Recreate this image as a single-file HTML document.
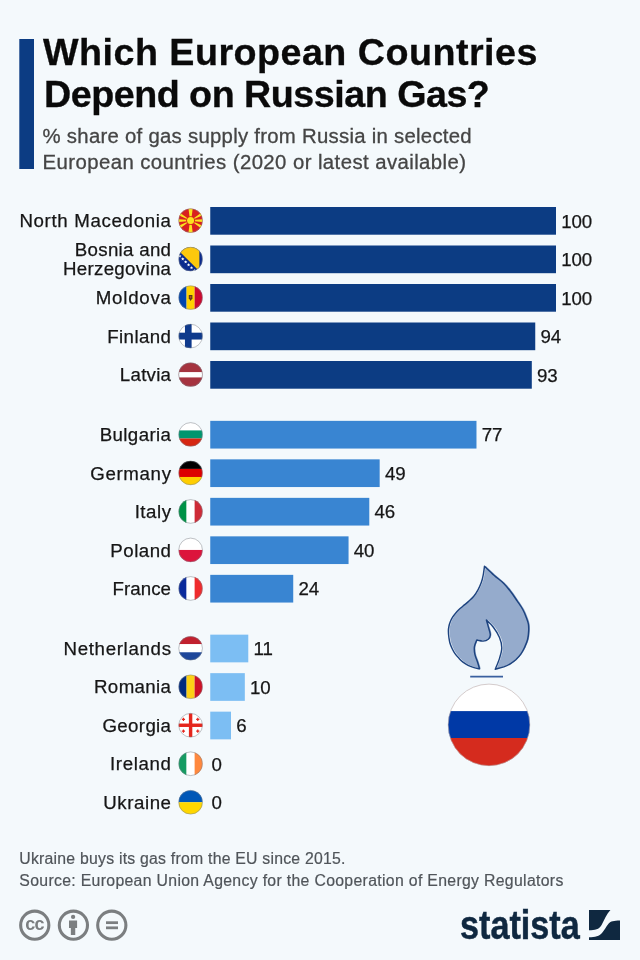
<!DOCTYPE html>
<html lang="en">
<head>
<meta charset="utf-8">
<title>Which European Countries Depend on Russian Gas?</title>
<style>
html,body{margin:0;padding:0;}
body{width:640px;height:960px;background:#f4f9fc;position:relative;overflow:hidden;font-family:"Liberation Sans",Arial,sans-serif;color:#1a1a1a;}
.abs{position:absolute;white-space:nowrap;}
.title{font-weight:bold;font-size:36.4px;line-height:42px;color:#0a0a0a;left:44px;-webkit-text-stroke:0.3px #0a0a0a;}
.sub{font-size:20.35px;line-height:24px;color:#454545;left:44px;-webkit-text-stroke:0.3px #454545;}
.lab{font-size:18.7px;line-height:20px;text-align:right;color:#161616;-webkit-text-stroke:0.25px #161616;}
.val{font-size:18.7px;line-height:20px;color:#161616;-webkit-text-stroke:0.25px #161616;}
.foot{font-size:15.8px;line-height:20px;color:#50555a;left:20.5px;-webkit-text-stroke:0.2px #50555a;}
svg{position:absolute;overflow:visible;}
</style>
</head>
<body>
<svg style="left:0;top:0;" width="60" height="200" viewBox="0 0 60 200"><rect x="19.3" y="39" width="14.7" height="130" fill="#0c3c83"/></svg>
<div class="abs title" style="left:42.90px;top:32.39px;letter-spacing:0.463px;transform-origin:0 0;transform:scaleX(1.035);">Which European Countries</div>
<div class="abs title" style="left:43.90px;top:73.99px;letter-spacing:-0.477px;transform-origin:0 0;transform:scaleX(1.035);">Depend on Russian Gas?</div>
<div class="abs sub" style="left:42.60px;top:124.45px;letter-spacing:0.269px;">% share of gas supply from Russia in selected</div>
<div class="abs sub" style="left:42.60px;top:149.95px;letter-spacing:0.422px;">European countries (2020 or latest available)</div>
<div class="abs val" style="left:561.30px;top:211.62px;letter-spacing:-0.150px;">100</div>
<div class="abs lab" style="right:468.34px;top:211.32px;letter-spacing:0.664px;transform-origin:100% 0;transform:scaleX(1.0);">North Macedonia</div>
<div class="abs val" style="left:561.30px;top:250.12px;letter-spacing:-0.150px;">100</div>
<div class="abs lab" style="right:468.70px;top:239.67px;letter-spacing:0.303px;transform-origin:100% 0;transform:scaleX(1.0);">Bosnia and</div>
<div class="abs lab" style="right:468.69px;top:259.37px;letter-spacing:0.311px;transform-origin:100% 0;transform:scaleX(1.0);">Herzegovina</div>
<div class="abs val" style="left:561.30px;top:288.62px;letter-spacing:-0.150px;">100</div>
<div class="abs lab" style="right:468.21px;top:288.32px;letter-spacing:0.786px;transform-origin:100% 0;transform:scaleX(1.0);">Moldova</div>
<div class="abs val" style="left:540.55px;top:327.12px;letter-spacing:-0.150px;">94</div>
<div class="abs lab" style="right:468.57px;top:326.82px;letter-spacing:0.428px;transform-origin:100% 0;transform:scaleX(1.0);">Finland</div>
<div class="abs val" style="left:537.10px;top:365.62px;letter-spacing:-0.150px;">93</div>
<div class="abs lab" style="right:468.74px;top:365.32px;letter-spacing:0.260px;transform-origin:100% 0;transform:scaleX(1.0);">Latvia</div>
<div class="abs val" style="left:481.78px;top:425.47px;letter-spacing:-0.150px;">77</div>
<div class="abs lab" style="right:468.60px;top:425.17px;letter-spacing:0.399px;transform-origin:100% 0;transform:scaleX(1.0);">Bulgaria</div>
<div class="abs val" style="left:384.97px;top:463.97px;letter-spacing:-0.150px;">49</div>
<div class="abs lab" style="right:468.35px;top:463.67px;letter-spacing:0.650px;transform-origin:100% 0;transform:scaleX(1.0);">Germany</div>
<div class="abs val" style="left:374.59px;top:502.47px;letter-spacing:-0.150px;">46</div>
<div class="abs lab" style="right:468.47px;top:502.17px;letter-spacing:0.526px;transform-origin:100% 0;transform:scaleX(1.0);">Italy</div>
<div class="abs val" style="left:353.85px;top:540.97px;letter-spacing:-0.150px;">40</div>
<div class="abs lab" style="right:468.51px;top:540.67px;letter-spacing:0.495px;transform-origin:100% 0;transform:scaleX(1.0);">Poland</div>
<div class="abs val" style="left:298.53px;top:579.47px;letter-spacing:-0.150px;">24</div>
<div class="abs lab" style="right:468.94px;top:579.17px;letter-spacing:0.060px;transform-origin:100% 0;transform:scaleX(1.0);">France</div>
<div class="abs val" style="left:253.58px;top:639.27px;letter-spacing:-0.150px;">11</div>
<div class="abs lab" style="right:468.32px;top:638.97px;letter-spacing:0.677px;transform-origin:100% 0;transform:scaleX(1.0);">Netherlands</div>
<div class="abs val" style="left:250.12px;top:677.77px;letter-spacing:-0.150px;">10</div>
<div class="abs lab" style="right:468.63px;top:677.47px;letter-spacing:0.369px;transform-origin:100% 0;transform:scaleX(1.0);">Romania</div>
<div class="abs val" style="left:236.30px;top:716.27px;letter-spacing:-0.150px;">6</div>
<div class="abs lab" style="right:468.65px;top:715.97px;letter-spacing:0.345px;transform-origin:100% 0;transform:scaleX(1.0);">Georgia</div>
<div class="abs val" style="left:211.60px;top:754.77px;letter-spacing:-0.150px;">0</div>
<div class="abs lab" style="right:468.35px;top:754.47px;letter-spacing:0.654px;transform-origin:100% 0;transform:scaleX(1.0);">Ireland</div>
<div class="abs val" style="left:211.60px;top:793.27px;letter-spacing:-0.150px;">0</div>
<div class="abs lab" style="right:468.42px;top:792.97px;letter-spacing:0.577px;transform-origin:100% 0;transform:scaleX(1.0);">Ukraine</div>
<svg style="left:0;top:0;" width="640" height="960" viewBox="0 0 640 960">
<rect x="210.25" y="207.00" width="345.75" height="27.7" fill="#0c3c83"/>
<rect x="210.25" y="245.50" width="345.75" height="27.7" fill="#0c3c83"/>
<rect x="210.25" y="284.00" width="345.75" height="27.7" fill="#0c3c83"/>
<rect x="210.25" y="322.50" width="325.00" height="27.7" fill="#0c3c83"/>
<rect x="210.25" y="361.00" width="321.55" height="27.7" fill="#0c3c83"/>
<rect x="210.25" y="420.85" width="266.23" height="27.7" fill="#3985d2"/>
<rect x="210.25" y="459.35" width="169.42" height="27.7" fill="#3985d2"/>
<rect x="210.25" y="497.85" width="159.04" height="27.7" fill="#3985d2"/>
<rect x="210.25" y="536.35" width="138.30" height="27.7" fill="#3985d2"/>
<rect x="210.25" y="574.85" width="82.98" height="27.7" fill="#3985d2"/>
<rect x="210.25" y="634.65" width="38.03" height="27.7" fill="#7cbef3"/>
<rect x="210.25" y="673.15" width="34.58" height="27.7" fill="#7cbef3"/>
<rect x="210.25" y="711.65" width="20.75" height="27.7" fill="#7cbef3"/>
<g transform="translate(178.50,208.50) scale(1.0083)"><clipPath id="cmk"><circle cx="12" cy="12" r="12"/></clipPath><g clip-path="url(#cmk)"><rect width="24" height="24" fill="#d9201f"/><polygon points="11.4,12 12.6,12 14.1,0 9.9,0" fill="#fbe21f"/><polygon points="11.4,12 12.6,12 14.1,24 9.9,24" fill="#fbe21f"/><polygon points="12,11.5 12,12.5 0,13.3 0,10.7" fill="#fbe21f"/><polygon points="12,11.5 12,12.5 24,13.3 24,10.7" fill="#fbe21f"/><polygon points="12,12 0,3.2 0,6.8" fill="#fbe21f"/><polygon points="12,12 24,3.2 24,6.8" fill="#fbe21f"/><polygon points="12,12 0,20.8 0,17.2" fill="#fbe21f"/><polygon points="12,12 24,20.8 24,17.2" fill="#fbe21f"/><circle cx="12" cy="12" r="4.4" fill="#d9201f"/><circle cx="12" cy="12" r="3.5" fill="#fbe21f"/></g><circle cx="12" cy="12" r="11.75" fill="none" stroke="#7d838b" stroke-width="0.5"/></g>
<g transform="translate(178.50,247.00) scale(1.0083)"><clipPath id="cba"><circle cx="12" cy="12" r="12"/></clipPath><g clip-path="url(#cba)"><rect width="24" height="24" fill="#0b2b8e"/><polygon points="-3.4,0 20.7,0 20.7,24.1" fill="#fdc80d"/><polygon points="1.30,7.25 1.76,8.36 2.96,8.46 2.05,9.24 2.33,10.42 1.30,9.79 0.27,10.42 0.55,9.24 -0.36,8.46 0.84,8.36" fill="#fff"/><polygon points="4.20,10.15 4.66,11.26 5.86,11.36 4.95,12.14 5.23,13.32 4.20,12.69 3.17,13.32 3.45,12.14 2.54,11.36 3.74,11.26" fill="#fff"/><polygon points="7.10,13.05 7.56,14.16 8.76,14.26 7.85,15.04 8.13,16.22 7.10,15.59 6.07,16.22 6.35,15.04 5.44,14.26 6.64,14.16" fill="#fff"/><polygon points="10.00,15.95 10.46,17.06 11.66,17.16 10.75,17.94 11.03,19.12 10.00,18.49 8.97,19.12 9.25,17.94 8.34,17.16 9.54,17.06" fill="#fff"/><polygon points="12.90,18.85 13.36,19.96 14.56,20.06 13.65,20.84 13.93,22.02 12.90,21.39 11.87,22.02 12.15,20.84 11.24,20.06 12.44,19.96" fill="#fff"/><polygon points="15.80,21.75 16.26,22.86 17.46,22.96 16.55,23.74 16.83,24.92 15.80,24.29 14.77,24.92 15.05,23.74 14.14,22.96 15.34,22.86" fill="#fff"/></g><circle cx="12" cy="12" r="11.75" fill="none" stroke="#7d838b" stroke-width="0.5"/></g>
<g transform="translate(178.50,285.50) scale(1.0083)"><clipPath id="cmd"><circle cx="12" cy="12" r="12"/></clipPath><g clip-path="url(#cmd)"><rect width="8" height="24" fill="#0046ae"/><rect x="8" width="8" height="24" fill="#ffd200"/><rect x="16" width="8" height="24" fill="#cc092f"/><path d="M10.2,9.3h3.6v3.4l-1.8,2.6l-1.8,-2.6z" fill="#5a3d1a"/><rect x="11.3" y="10.4" width="1.4" height="2.2" fill="#b5462a"/></g><circle cx="12" cy="12" r="11.75" fill="none" stroke="#7d838b" stroke-width="0.5"/></g>
<g transform="translate(178.50,324.00) scale(1.0083)"><clipPath id="cfi"><circle cx="12" cy="12" r="12"/></clipPath><g clip-path="url(#cfi)"><rect width="24" height="24" fill="#fff"/><rect x="6.4" width="6.6" height="24" fill="#0f3a8c"/><rect y="8.6" width="24" height="6.8" fill="#0f3a8c"/></g><circle cx="12" cy="12" r="11.75" fill="none" stroke="#7d838b" stroke-width="0.5"/></g>
<g transform="translate(178.50,362.50) scale(1.0083)"><clipPath id="clv"><circle cx="12" cy="12" r="12"/></clipPath><g clip-path="url(#clv)"><rect width="24" height="24" fill="#a5333f"/><rect y="9.5" width="24" height="5.3" fill="#fff"/></g><circle cx="12" cy="12" r="11.75" fill="none" stroke="#7d838b" stroke-width="0.5"/></g>
<g transform="translate(178.50,422.35) scale(1.0083)"><clipPath id="cbg"><circle cx="12" cy="12" r="12"/></clipPath><g clip-path="url(#cbg)"><rect width="24" height="8" fill="#fff"/><rect y="8" width="24" height="8" fill="#00966e"/><rect y="16" width="24" height="8" fill="#d62612"/></g><circle cx="12" cy="12" r="11.75" fill="none" stroke="#7d838b" stroke-width="0.5"/></g>
<g transform="translate(178.50,460.85) scale(1.0083)"><clipPath id="cde"><circle cx="12" cy="12" r="12"/></clipPath><g clip-path="url(#cde)"><rect width="24" height="8" fill="#000"/><rect y="8" width="24" height="8" fill="#dd0000"/><rect y="16" width="24" height="8" fill="#ffce00"/></g><circle cx="12" cy="12" r="11.75" fill="none" stroke="#7d838b" stroke-width="0.5"/></g>
<g transform="translate(178.50,499.35) scale(1.0083)"><clipPath id="cit"><circle cx="12" cy="12" r="12"/></clipPath><g clip-path="url(#cit)"><rect width="8" height="24" fill="#009246"/><rect x="8" width="8" height="24" fill="#fff"/><rect x="16" width="8" height="24" fill="#ce2b37"/></g><circle cx="12" cy="12" r="11.75" fill="none" stroke="#7d838b" stroke-width="0.5"/></g>
<g transform="translate(178.50,537.85) scale(1.0083)"><clipPath id="cpl"><circle cx="12" cy="12" r="12"/></clipPath><g clip-path="url(#cpl)"><rect width="24" height="12" fill="#fff"/><rect y="12" width="24" height="12" fill="#dc143c"/></g><circle cx="12" cy="12" r="11.75" fill="none" stroke="#7d838b" stroke-width="0.5"/></g>
<g transform="translate(178.50,576.35) scale(1.0083)"><clipPath id="cfr"><circle cx="12" cy="12" r="12"/></clipPath><g clip-path="url(#cfr)"><rect width="8" height="24" fill="#0a2a9c"/><rect x="8" width="8" height="24" fill="#fff"/><rect x="16" width="8" height="24" fill="#ef2b2d"/></g><circle cx="12" cy="12" r="11.75" fill="none" stroke="#7d838b" stroke-width="0.5"/></g>
<g transform="translate(178.50,636.15) scale(1.0083)"><clipPath id="cnl"><circle cx="12" cy="12" r="12"/></clipPath><g clip-path="url(#cnl)"><rect width="24" height="8" fill="#c1202e"/><rect y="8" width="24" height="8" fill="#fff"/><rect y="16" width="24" height="8" fill="#1f479a"/></g><circle cx="12" cy="12" r="11.75" fill="none" stroke="#7d838b" stroke-width="0.5"/></g>
<g transform="translate(178.50,674.65) scale(1.0083)"><clipPath id="cro"><circle cx="12" cy="12" r="12"/></clipPath><g clip-path="url(#cro)"><rect width="8" height="24" fill="#002b7f"/><rect x="8" width="8" height="24" fill="#fcd116"/><rect x="16" width="8" height="24" fill="#ce1126"/></g><circle cx="12" cy="12" r="11.75" fill="none" stroke="#7d838b" stroke-width="0.5"/></g>
<g transform="translate(178.50,713.15) scale(1.0083)"><clipPath id="cge"><circle cx="12" cy="12" r="12"/></clipPath><g clip-path="url(#cge)"><rect width="24" height="24" fill="#fff"/><rect x="10.3" width="3.4" height="24" fill="#e5261d"/><rect y="10.3" width="24" height="3.4" fill="#e5261d"/><path d="M3.3000000000000003,6.2H6.5M4.9,4.6V7.800000000000001" stroke="#e5261d" stroke-width="1.2"/><path d="M17.5,6.2H20.700000000000003M19.1,4.6V7.800000000000001" stroke="#e5261d" stroke-width="1.2"/><path d="M3.3000000000000003,17.8H6.5M4.9,16.2V19.400000000000002" stroke="#e5261d" stroke-width="1.2"/><path d="M17.5,17.8H20.700000000000003M19.1,16.2V19.400000000000002" stroke="#e5261d" stroke-width="1.2"/></g><circle cx="12" cy="12" r="11.75" fill="none" stroke="#7d838b" stroke-width="0.5"/></g>
<g transform="translate(178.50,751.65) scale(1.0083)"><clipPath id="cie"><circle cx="12" cy="12" r="12"/></clipPath><g clip-path="url(#cie)"><rect width="8" height="24" fill="#169b62"/><rect x="8" width="8" height="24" fill="#fff"/><rect x="16" width="8" height="24" fill="#ff883e"/></g><circle cx="12" cy="12" r="11.75" fill="none" stroke="#7d838b" stroke-width="0.5"/></g>
<g transform="translate(178.50,790.15) scale(1.0083)"><clipPath id="cua"><circle cx="12" cy="12" r="12"/></clipPath><g clip-path="url(#cua)"><rect width="24" height="12" fill="#0057b7"/><rect y="12" width="24" height="12" fill="#ffd700"/></g><circle cx="12" cy="12" r="11.75" fill="none" stroke="#7d838b" stroke-width="0.5"/></g>
</svg>
<svg style="left:0;top:0;" width="640" height="960" viewBox="0 0 640 960">
<path d="M484.5,566.2 C486.1,567.7 490.8,572.3 494.0,575.2 C497.2,578.1 500.9,580.6 503.8,583.4 C506.6,586.2 508.7,589.0 511.0,592.0 C513.3,595.0 515.5,598.5 517.5,601.4 C519.5,604.3 521.4,606.9 522.8,609.5 C524.2,612.1 525.2,614.5 526.1,616.9 C527.0,619.3 528.0,621.7 528.4,624.0 C528.8,626.3 528.8,628.0 528.7,630.6 C528.6,633.2 528.3,636.6 527.6,639.5 C526.9,642.4 525.5,645.3 524.4,647.8 C523.3,650.2 522.2,652.2 520.8,654.2 C519.4,656.2 517.5,658.2 515.8,659.8 C514.0,661.4 512.3,662.6 510.3,663.8 C508.3,665.0 506.2,666.0 503.8,666.9 C501.2,667.8 496.7,668.9 495.3,669.3 C496.0,667.4 498.5,661.7 499.6,658.1 C500.7,654.5 501.8,651.2 501.8,647.8 C501.8,644.4 500.9,640.9 499.5,637.5 C498.1,634.1 495.6,630.1 493.4,627.2 C491.2,624.3 487.6,621.3 486.4,620.1 C486.8,621.4 488.0,625.6 488.7,628.1 C489.4,630.6 490.4,633.1 490.3,635.0 C490.2,636.9 489.5,638.2 488.3,639.2 C487.1,640.2 485.0,641.0 483.1,641.1 C481.2,641.2 477.9,640.2 476.8,640.0 C476.4,641.1 474.7,644.5 474.4,646.9 C474.1,649.3 474.4,651.9 474.9,654.4 C475.4,656.9 476.7,659.5 477.5,661.9 C478.3,664.3 479.2,667.7 479.6,668.9 C478.7,668.7 475.9,668.2 474.0,667.6 C472.1,667.0 469.9,666.3 468.1,665.4 C466.3,664.5 464.6,663.4 463.0,662.2 C461.4,661.0 460.1,659.5 458.8,658.1 C457.4,656.7 456.1,655.3 455.0,653.7 C453.9,652.1 453.0,650.5 452.2,648.8 C451.4,647.0 450.6,645.1 450.0,643.2 C449.4,641.3 449.2,639.5 448.9,637.5 C448.6,635.5 448.4,632.8 448.4,630.9 C448.4,629.0 448.7,627.5 449.0,626.0 C449.3,624.5 449.8,623.1 450.4,621.6 C451.0,620.1 451.7,618.6 452.6,617.2 C453.5,615.8 454.5,614.6 455.6,613.3 C456.7,612.0 457.8,610.8 459.0,609.6 C460.2,608.4 461.2,607.6 462.8,606.2 C464.4,604.8 466.8,603.1 468.6,601.4 C470.4,599.7 472.2,598.1 473.8,596.2 C475.4,594.3 476.8,592.0 478.0,589.8 C479.2,587.6 480.3,585.2 481.2,582.8 C482.1,580.4 482.6,578.4 483.1,575.6 C483.7,572.8 484.3,567.8 484.5,566.2 Z" fill="#95abcc" stroke="none" transform="translate(1.2,-0.4)"/>
<path d="M484.5,566.2 C486.1,567.7 490.8,572.3 494.0,575.2 C497.2,578.1 500.9,580.6 503.8,583.4 C506.6,586.2 508.7,589.0 511.0,592.0 C513.3,595.0 515.5,598.5 517.5,601.4 C519.5,604.3 521.4,606.9 522.8,609.5 C524.2,612.1 525.2,614.5 526.1,616.9 C527.0,619.3 528.0,621.7 528.4,624.0 C528.8,626.3 528.8,628.0 528.7,630.6 C528.6,633.2 528.3,636.6 527.6,639.5 C526.9,642.4 525.5,645.3 524.4,647.8 C523.3,650.2 522.2,652.2 520.8,654.2 C519.4,656.2 517.5,658.2 515.8,659.8 C514.0,661.4 512.3,662.6 510.3,663.8 C508.3,665.0 506.2,666.0 503.8,666.9 C501.2,667.8 496.7,668.9 495.3,669.3 C496.0,667.4 498.5,661.7 499.6,658.1 C500.7,654.5 501.8,651.2 501.8,647.8 C501.8,644.4 500.9,640.9 499.5,637.5 C498.1,634.1 495.6,630.1 493.4,627.2 C491.2,624.3 487.6,621.3 486.4,620.1 C486.8,621.4 488.0,625.6 488.7,628.1 C489.4,630.6 490.4,633.1 490.3,635.0 C490.2,636.9 489.5,638.2 488.3,639.2 C487.1,640.2 485.0,641.0 483.1,641.1 C481.2,641.2 477.9,640.2 476.8,640.0 C476.4,641.1 474.7,644.5 474.4,646.9 C474.1,649.3 474.4,651.9 474.9,654.4 C475.4,656.9 476.7,659.5 477.5,661.9 C478.3,664.3 479.2,667.7 479.6,668.9 C478.7,668.7 475.9,668.2 474.0,667.6 C472.1,667.0 469.9,666.3 468.1,665.4 C466.3,664.5 464.6,663.4 463.0,662.2 C461.4,661.0 460.1,659.5 458.8,658.1 C457.4,656.7 456.1,655.3 455.0,653.7 C453.9,652.1 453.0,650.5 452.2,648.8 C451.4,647.0 450.6,645.1 450.0,643.2 C449.4,641.3 449.2,639.5 448.9,637.5 C448.6,635.5 448.4,632.8 448.4,630.9 C448.4,629.0 448.7,627.5 449.0,626.0 C449.3,624.5 449.8,623.1 450.4,621.6 C451.0,620.1 451.7,618.6 452.6,617.2 C453.5,615.8 454.5,614.6 455.6,613.3 C456.7,612.0 457.8,610.8 459.0,609.6 C460.2,608.4 461.2,607.6 462.8,606.2 C464.4,604.8 466.8,603.1 468.6,601.4 C470.4,599.7 472.2,598.1 473.8,596.2 C475.4,594.3 476.8,592.0 478.0,589.8 C479.2,587.6 480.3,585.2 481.2,582.8 C482.1,580.4 482.6,578.4 483.1,575.6 C483.7,572.8 484.3,567.8 484.5,566.2 Z" fill="none" stroke="#1d437f" stroke-width="1.45" stroke-linejoin="round"/>
<path d="M470.2,676.6H503" stroke="#3a609f" stroke-width="1.6" fill="none"/>
<clipPath id="cru"><circle cx="489" cy="724.9" r="41"/></clipPath>
<g clip-path="url(#cru)"><rect x="440" y="680" width="100" height="31.1" fill="#ffffff"/><rect x="440" y="711.1" width="100" height="26.9" fill="#0039a6"/><rect x="440" y="738" width="100" height="30" fill="#d52b1e"/></g>
<circle cx="489" cy="724.9" r="40.8" fill="none" stroke="#b9a9a9" stroke-width="0.6"/>
</svg>
<div class="abs foot" style="left:19.30px;top:848.53px;letter-spacing:0.235px;">Ukraine buys its gas from the EU since 2015.</div>
<div class="abs foot" style="left:19.30px;top:871.03px;letter-spacing:0.325px;">Source: European Union Agency for the Cooperation of Energy Regulators</div>
<svg style="left:0;top:0;" width="640" height="960" viewBox="0 0 640 960">
<g fill="none" stroke="#7b7e80" stroke-width="3.1">
<circle cx="34.75" cy="925.2" r="14.1"/><circle cx="73.4" cy="925.2" r="14.1"/><circle cx="111.8" cy="925.2" r="14.1"/>
</g>
<text x="34.4" y="929.9" text-anchor="middle" font-family="Liberation Sans, Arial, sans-serif" font-weight="bold" font-size="18" letter-spacing="-0.9" fill="#7b7e80">cc</text>
<circle cx="73.1" cy="916.9" r="2.15" fill="#7b7e80"/>
<path d="M69,920.4h8.1v7.7h-1.85v6.9h-4.4v-6.9h-1.85z" fill="#7b7e80"/>
<rect x="106" y="921.3" width="12" height="2.75" fill="#7b7e80"/><rect x="106" y="926.45" width="12" height="2.75" fill="#7b7e80"/>
</svg>
<div class="abs" style="left:459.6px;top:900.32px;font-weight:bold;font-size:41.2px;line-height:50px;color:#0f2840;transform-origin:0 0;transform:scaleX(0.83);letter-spacing:0px;-webkit-text-stroke:0.5px #0f2840;">statista</div>
<svg style="left:589.2px;top:909.6px;overflow:hidden;" width="31.2" height="30.9" viewBox="0 0 31.2 30.9"><rect width="31.2" height="30.9" fill="#0f2840"/><path d="M0,20.2 C6,20.2 10,19.6 12.6,15 C15.6,9 18,3 22.5,-1 L33,-1 L33,10.5 C25,10.6 22,11 19.7,13.6 C17,17 15,21 13,23 C10.5,26 6,27.2 0,27.2 Z" fill="#f4f9fc"/></svg>
</body>
</html>
